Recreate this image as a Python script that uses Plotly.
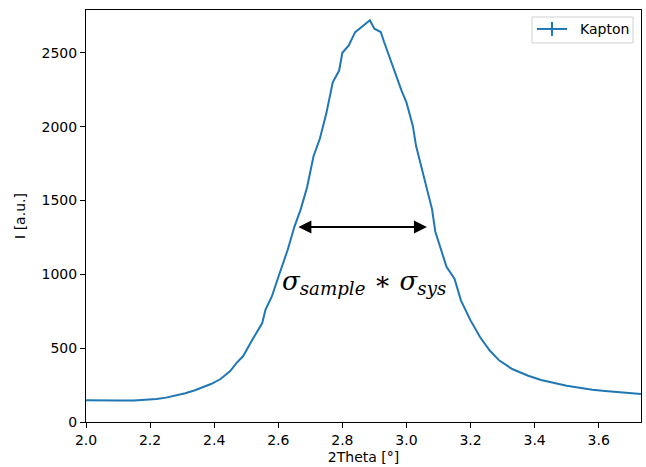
import plotly.graph_objects as go

# Data
two_theta = [2.00, 2.03, 2.06, 2.10, 2.15, 2.19, 2.22, 2.25, 2.28, 2.31, 2.34, 2.36,
             2.39, 2.42, 2.45, 2.47, 2.49, 2.52, 2.55, 2.56, 2.58, 2.60, 2.62, 2.63,
             2.65, 2.67, 2.69, 2.70, 2.71, 2.73, 2.75, 2.77, 2.79, 2.80, 2.82, 2.84,
             2.86, 2.886, 2.90, 2.92, 2.93, 2.96, 2.985, 3.00, 3.02, 3.03, 3.05, 3.08,
             3.09, 3.11, 3.125, 3.15, 3.17, 3.20, 3.23, 3.26, 3.29, 3.33, 3.38, 3.42,
             3.46, 3.50, 3.54, 3.58, 3.62, 3.66, 3.70, 3.732]
intensity = [148, 147, 143, 145, 146, 150, 156, 165, 178, 195, 215, 230,
             257, 291, 345, 400, 445, 560, 670, 760, 850, 980, 1100, 1170,
             1320, 1440, 1590, 1690, 1800, 1920, 2090, 2300, 2380, 2500, 2550, 2640,
             2675, 2720, 2663, 2641, 2575, 2391, 2243, 2164, 2005, 1870, 1700, 1440,
             1290, 1150, 1051, 970, 824, 688, 574, 484, 416, 359, 313, 284,
             262, 245, 232, 218, 210, 204, 195, 189]

series_name = "Kapton"
x_ticks = [2.0, 2.2, 2.4, 2.6, 2.8, 3.0, 3.2, 3.4, 3.6]
x_tick_labels = ["2.0", "2.2", "2.4", "2.6", "2.8", "3.0", "3.2", "3.4", "3.6"]
y_ticks = [0, 500, 1000, 1500, 2000, 2500]
y_tick_labels = ["0", "500", "1000", "1500", "2000", "2500"]

# Annotation (double arrow and label)
arrow_x = [2.658, 3.064]
arrow_y = 1321
label_pos = (2.866, 945)

BLUE = "#1f77b4"
FONT = "DejaVu Sans"
FS = 14

fig = go.Figure()
fig.add_trace(go.Scatter(x=two_theta, y=intensity, mode="lines",
                         line=dict(color=BLUE, width=2), name=series_name,
                         showlegend=False))

fig.add_annotation(x=arrow_x[1], y=arrow_y, ax=arrow_x[0], ay=arrow_y,
                   xref="x", yref="y", axref="x", ayref="y",
                   text="", showarrow=True, arrowside="end+start",
                   arrowhead=2, arrowsize=1.3, arrowwidth=2, arrowcolor="black",
                   standoff=0, startstandoff=0)

fig.add_annotation(x=label_pos[0], y=label_pos[1], xref="x", yref="y",
                   text="<i>σ<sub>sample</sub></i> ∗ <i>σ<sub>sys</sub></i>",
                   showarrow=False, xanchor="center", yanchor="middle",
                   font=dict(family="DejaVu Serif", size=26, color="black"))

# Custom legend (line with errorbar cap like matplotlib)
fig.add_shape(type="rect", xref="paper", yref="paper",
              x0=0.8036, x1=0.9856, y0=0.920, y1=0.983,
              line=dict(color="#d0d0d0", width=1), fillcolor="rgba(255,255,255,0.8)")
fig.add_shape(type="line", xref="paper", yref="paper",
              x0=0.8126, x1=0.8667, y0=0.954, y1=0.954,
              line=dict(color=BLUE, width=2))
fig.add_shape(type="line", xref="paper", yref="paper",
              x0=0.8396, x1=0.8396, y0=0.937, y1=0.971,
              line=dict(color=BLUE, width=2))
fig.add_annotation(x=0.8865, y=0.954, xref="paper", yref="paper",
                   text=series_name, showarrow=False, xanchor="left",
                   yanchor="middle", font=dict(family=FONT, size=FS, color="black"))

axis_common = dict(showline=True, linecolor="black", linewidth=1, mirror=True,
                   ticks="outside", ticklen=5, tickwidth=1, tickcolor="black",
                   showgrid=False, zeroline=False,
                   tickfont=dict(family=FONT, size=FS, color="black"))

fig.update_xaxes(range=[2.0, 3.732], tickvals=x_ticks, ticktext=x_tick_labels,
                 title=dict(text="2Theta [°]", font=dict(family=FONT, size=FS, color="black"),
                            standoff=5),
                 **axis_common)
fig.update_yaxes(range=[0, 2790], tickvals=y_ticks, ticktext=y_tick_labels,
                 title=dict(text="I [a.u.]", font=dict(family=FONT, size=FS, color="black"),
                            standoff=12),
                 **axis_common)

fig.update_layout(width=646, height=467, margin=dict(l=86, r=5, t=10, b=45),
                  plot_bgcolor="white", paper_bgcolor="white",
                  font=dict(family=FONT, size=FS, color="black"))

fig.write_html("out.html",
               config={"displayModeBar": False},
               post_script="document.body.style.margin='0';"
                           "document.documentElement.style.overflow='hidden';"
                           "document.body.style.overflow='hidden';")
